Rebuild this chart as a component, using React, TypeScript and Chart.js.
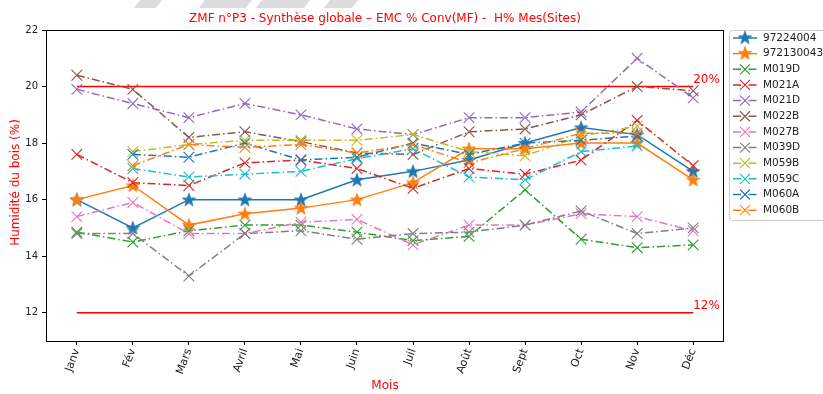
import { useEffect, useRef } from 'react';
import { Chart, registerables } from 'chart.js';
Chart.register(...registerables);

const months = ['Janv', 'Fév', 'Mars', 'Avril', 'Mai', 'Juin', 'Juil', 'Août', 'Sept', 'Oct', 'Nov', 'Déc'];
const yTicks = [12, 14, 16, 18, 20, 22];

const s97224004 = [16.0, 15.0, 16.0, 16.0, 16.0, 16.7, 17.0, 17.4, 18.0, 18.55, 18.3, 17.0];
const s9721300430 = [16.0, 16.5, 15.1, 15.5, 15.7, 16.0, 16.6, 17.8, 17.8, 18.0, 18.0, 16.7];
const m019D = [14.85, 14.5, 14.9, 15.1, 15.1, 14.85, 14.55, 14.7, 16.35, 14.6, 14.3, 14.4];
const m021A = [17.6, 16.6, 16.5, 17.3, 17.4, 17.1, 16.4, 17.1, 16.9, 17.4, 18.8, 17.2];
const m021D = [19.9, 19.4, 18.9, 19.4, 19.0, 18.5, 18.3, 18.9, 18.9, 19.1, 21.0, 19.6];
const m022B = [20.4, 19.9, 18.2, 18.4, 18.05, 17.65, 17.6, 18.4, 18.5, 19.0, 20.0, 19.85];
const m027B = [15.4, 15.9, 14.8, 14.8, 15.2, 15.3, 14.4, 15.1, 15.1, 15.5, 15.4, 14.9];
const m039D = [14.8, 14.8, 13.3, 14.8, 14.9, 14.6, 14.8, 14.85, 15.1, 15.6, 14.8, 15.0];
const m059B = [null, 17.7, 17.95, 18.1, 18.1, 18.1, 18.3, 17.7, 17.55, 18.25, 18.6, null];
const m059C = [null, 17.1, 16.8, 16.9, 17.0, 17.45, 17.8, 16.8, 16.7, 17.7, 17.9, null];
const m060A = [null, 17.6, 17.5, 18.0, 17.4, 17.5, 18.0, 17.6, 18.0, 18.1, 18.25, null];
const m060B = [null, 17.2, 17.95, 17.85, 17.95, 17.65, 17.95, 17.3, 17.8, 18.35, 18.35, null];
const limitHigh = months.map(() => 20);
const limitLow = months.map(() => 12);

const seriesNames = ['97224004', '9721300430', 'M019D', 'M021A', 'M021D', 'M022B', 'M027B', 'M039D', 'M059B', 'M059C', 'M060A', 'M060B'];
const seriesValues = [s97224004, s9721300430, m019D, m021A, m021D, m022B, m027B, m039D, m059B, m059C, m060A, m060B];
const colors = ['#1f77b4', '#ff7f0e', '#2ca02c', '#d62728', '#9467bd', '#8c564b', '#e377c2', '#7f7f7f', '#bcbd22', '#17becf', '#1f77b4', '#ff7f0e'];

const TITLE = 'ZMF n°P3 - Synthèse globale – EMC % Conv(MF) -  H% Mes(Sites)';
const Y_TITLE = 'Humidité du bois (%)';
const X_TITLE = 'Mois';
const DASH = [8, 3, 1.5, 3];
const FONT = '"DejaVu Sans", sans-serif';

function makeStar(color: string) {
  const c = document.createElement('canvas');
  c.width = 16; c.height = 16;
  const g = c.getContext('2d')!;
  const R = 7, r = 2.8;
  g.beginPath();
  for (let i = 0; i < 10; i++) {
    const rad = i % 2 === 0 ? R : r;
    const a = -Math.PI / 2 + (i * Math.PI) / 5;
    const x = 8 + rad * Math.cos(a), y = 8.5 + rad * Math.sin(a);
    if (i === 0) g.moveTo(x, y); else g.lineTo(x, y);
  }
  g.closePath();
  g.fillStyle = color;
  g.fill();
  g.strokeStyle = color;
  g.lineWidth = 0.8;
  g.stroke();
  return c;
}

export default function App() {
  const ref = useRef<HTMLCanvasElement | null>(null);
  useEffect(() => {
    document.body.style.margin = '0';
    const stars = [makeStar(colors[0]), makeStar(colors[1])];
    const datasets: any[] = [
      { data: limitHigh.map((v, i) => ({ x: i, y: v })), borderColor: '#ff0000', borderWidth: 1.5, pointRadius: 0, order: 200 },
      { data: limitLow.map((v, i) => ({ x: i, y: v })), borderColor: '#ff0000', borderWidth: 1.5, pointRadius: 0, order: 199 },
    ];
    seriesValues.forEach((vals, i) => {
      const isStar = i < 2;
      datasets.push({
        label: seriesNames[i],
        data: vals.map((v, k) => ({ x: k, y: v })),
        borderColor: colors[i],
        backgroundColor: colors[i],
        borderWidth: 1.5,
        borderDash: isStar ? [] : DASH,
        pointStyle: isStar ? stars[i] : 'crossRot',
        pointRadius: 7.5,
        pointBorderWidth: 1.1,
        pointBorderColor: colors[i],
        spanGaps: false,
        order: 100 - i,
      });
    });

    const deco = {
      id: 'deco',
      afterDraw(chart: any) {
        const { ctx, chartArea: a, scales } = chart;
        ctx.save();
        ctx.strokeStyle = '#000';
        ctx.lineWidth = 1;
        ctx.setLineDash([]);
        ctx.strokeRect(a.left + 0.5, a.top + 0.5, a.right - a.left - 1, a.bottom - a.top);
        // watermark stripes
        ctx.fillStyle = '#dcdcdc';
        const stripes = [[140, 162], [205, 252], [262, 310], [330, 358]];
        stripes.forEach(([x0, x1]) => {
          ctx.beginPath();
          ctx.moveTo(x0, 0); ctx.lineTo(x1, 0); ctx.lineTo(x1 - 6, 8); ctx.lineTo(x0 - 6, 8); ctx.closePath();
          ctx.fill();
        });
        ctx.fillStyle = '#ff0000';
        ctx.font = '12px ' + FONT;
        ctx.textAlign = 'center';
        ctx.textBaseline = 'middle';
        ctx.fillText(TITLE, (a.left + a.right) / 2, 19);
        ctx.fillText(X_TITLE, (a.left + a.right) / 2, 386);
        // threshold labels
        ctx.textAlign = 'left';
        ctx.textBaseline = 'bottom';
        ctx.fillText('20%', scales.x.getPixelForValue(11), scales.y.getPixelForValue(20) - 0.5);
        ctx.fillText('12%', scales.x.getPixelForValue(11), scales.y.getPixelForValue(12) - 0.5);
        ctx.save();
        ctx.translate(16, (a.top + a.bottom) / 2 - 3);
        ctx.rotate(-Math.PI / 2);
        ctx.textAlign = 'center';
        ctx.textBaseline = 'middle';
        ctx.fillText(Y_TITLE, 0, 0);
        ctx.restore();
        // legend
        const lx = 729.5, ly = 30.5;
        ctx.beginPath();
        ctx.roundRect(lx, ly, 110, 190, 3);
        ctx.fillStyle = 'rgba(255,255,255,0.8)';
        ctx.fill();
        ctx.strokeStyle = '#cccccc';
        ctx.lineWidth = 1;
        ctx.stroke();
        ctx.font = '10.5px ' + FONT;
        ctx.textBaseline = 'middle';
        ctx.textAlign = 'left';
        seriesNames.forEach((name, i) => {
          const y = 38 + i * 15.65;
          ctx.strokeStyle = colors[i];
          ctx.lineWidth = 1.5;
          ctx.setLineDash(i < 2 ? [] : DASH);
          ctx.beginPath();
          ctx.moveTo(733, y); ctx.lineTo(757, y);
          ctx.stroke();
          ctx.setLineDash([]);
          if (i < 2) {
            ctx.drawImage(stars[i], 745 - 8, y - 8.5);
          } else {
            ctx.lineWidth = 1.1;
            ctx.beginPath();
            const d = 5;
            ctx.moveTo(745 - d, y - d); ctx.lineTo(745 + d, y + d);
            ctx.moveTo(745 - d, y + d); ctx.lineTo(745 + d, y - d);
            ctx.stroke();
          }
          ctx.fillStyle = '#222';
          ctx.fillText(name, 763, y);
        });
        ctx.restore();
      },
    };

    const chart = new Chart(ref.current!, {
      type: 'line',
      data: { datasets },
      plugins: [deco],
      options: {
        animation: false,
        responsive: false,
        devicePixelRatio: 1,
        layout: { padding: { top: 30, right: 99, left: 0, bottom: 0 } },
        plugins: { legend: { display: false }, tooltip: { enabled: false }, title: { display: false } },
        scales: {
          x: {
            type: 'linear',
            min: -0.55,
            max: 11.55,
            afterBuildTicks: (s: any) => { s.ticks = months.map((_, i) => ({ value: i })); },
            afterFit: (s: any) => { s.height = 53; },
            ticks: {
              autoSkip: false,
              minRotation: 70,
              maxRotation: 70,
              padding: 2,
              color: '#222',
              font: { family: FONT, size: 11 },
              callback: (v: any) => months[v] ?? '',
            },
            grid: { drawOnChartArea: false, drawTicks: true, tickLength: 4, color: '#000' },
            border: { display: false },
          },
          y: {
            type: 'linear',
            min: 11,
            max: 22,
            afterBuildTicks: (s: any) => { s.ticks = yTicks.map((v) => ({ value: v })); },
            afterFit: (s: any) => { s.width = 46; },
            ticks: { color: '#222', padding: 4, font: { family: FONT, size: 10 } },
            grid: { drawOnChartArea: false, drawTicks: true, tickLength: 4, color: '#000' },
            border: { display: false },
          },
        },
      } as any,
    });
    return () => chart.destroy();
  }, []);
  return (
    <div style={{ width: 823, height: 394 }}>
      <canvas ref={ref} width={823} height={394} />
    </div>
  );
}
